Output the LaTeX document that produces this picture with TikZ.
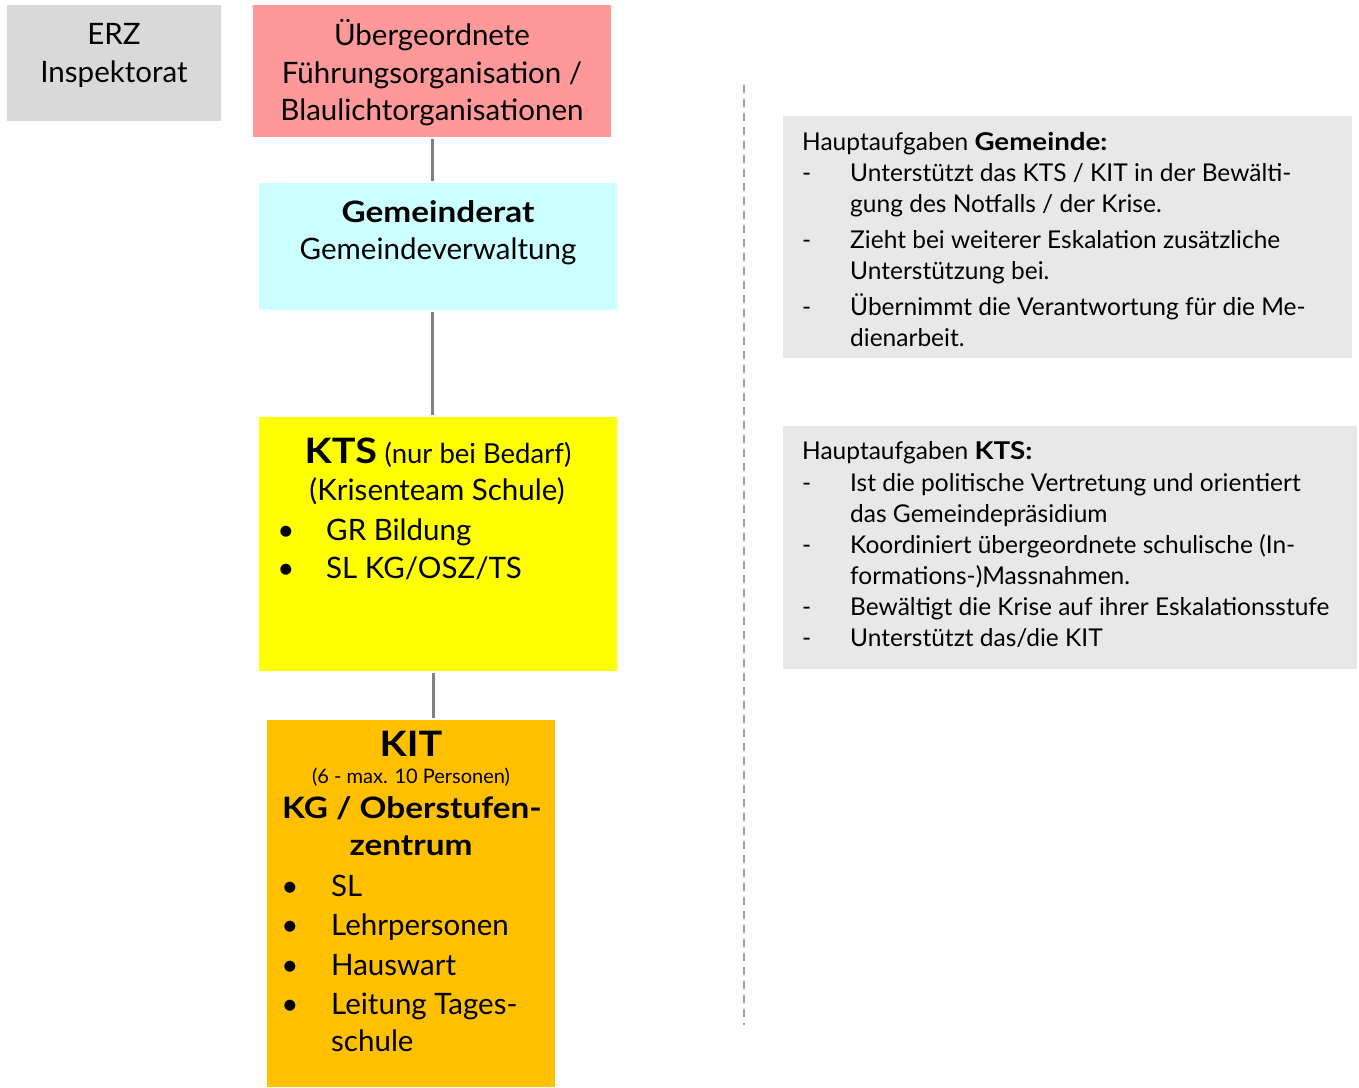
\documentclass[tikz,border=0pt]{standalone}
\usepackage{fontspec}
\setmainfont{Lato}
\newfontfamily\boldwide[FakeStretch=1.13]{Lato}
\definecolor{erzgray}{HTML}{D9D9D9}
\definecolor{redbox}{HTML}{FF9999}
\definecolor{cyanbox}{HTML}{CCFFFF}
\definecolor{yellowbox}{HTML}{FFFF00}
\definecolor{orangebox}{HTML}{FFC000}
\definecolor{infogray}{HTML}{E8E8E8}
\definecolor{conngray}{HTML}{808080}
\definecolor{dashgray}{HTML}{A0A0A0}
\newcommand{\wb}[1]{{\boldwide\bfseries #1}}
\begin{document}
\begin{tikzpicture}[x=1pt,y=-1pt,
  box/.style={draw=none, inner sep=0pt, outer sep=0pt, anchor=north west},
  txt/.style={inner sep=0pt, anchor=base, font=\fontsize{29.5}{38}\selectfont},
  txtl/.style={inner sep=0pt, anchor=base west, font=\fontsize{29.5}{38}\selectfont},
  info/.style={inner sep=0pt, anchor=base west, font=\fontsize{24.5}{31}\selectfont},
  conn/.style={draw=conngray, line width=3pt, shorten <=2pt, shorten >=2pt},
  divider/.style={draw=dashgray, line width=1.6pt, dash pattern=on 8pt off 6pt}]
\useasboundingbox (0,0) rectangle (1359,1087);
% boxes
\node[box, fill=erzgray, minimum width=214pt, minimum height=116pt] (erz) at (7,5) {};
\node[box, fill=redbox, minimum width=358pt, minimum height=132pt] (fuehrung) at (253,5) {};
\node[box, fill=cyanbox, minimum width=358pt, minimum height=127pt] (gemeinderat) at (259,183) {};
\node[box, fill=yellowbox, minimum width=358pt, minimum height=254pt] (kts) at (259,417) {};
\node[box, fill=orangebox, minimum width=288pt, minimum height=367pt] (kit) at (267,720) {};
\node[box, fill=infogray, minimum width=569pt, minimum height=242pt] (infoG) at (783,116) {};
\node[box, fill=infogray, minimum width=574pt, minimum height=243pt] (infoK) at (783,426) {};
% connectors
\draw[conn] (fuehrung.south) -- (fuehrung.south |- gemeinderat.north);
\draw[conn] (fuehrung.south |- gemeinderat.south) -- (fuehrung.south |- kts.north);
\draw[conn] ([xshift=1pt]fuehrung.south |- kts.south) -- ([xshift=1pt]fuehrung.south |- kit.north);
\coordinate (dtop) at (744,85);
\coordinate (dbot) at (744,1025);
\draw[divider] (dtop) -- (dbot);
% ERZ
\node[txt] (erz1) at (114,44) {ERZ};
\node[txt] (erz2) at (114,82) {Inspektorat};
% red
\node[txt] (f1) at (432,45) {Übergeordnete};
\node[txt] (f2) at (432,83) {Führungsorganisation /};
\node[txt] (f3) at (432,120) {Blaulichtorganisationen};
% cyan
\node[txt] (g1) at (438,222) {\wb{Gemeinderat}};
\node[txt] (g2) at (438,259) {Gemeindeverwaltung};
% yellow
\node[txt] (k1) at (438,463) {{\fontsize{35}{38}\selectfont\wb{KTS}} {\fontsize{27.5}{38}\selectfont(nur bei Bedarf)}};
\node[txt] (k2) at (437,500) {(Krisenteam Schule)};
\node[txt] (kb1) at (286,540) {•};
\node[txtl] (kt1) at (326,540) {GR Bildung};
\node[txt] (kb2) at (286,578) {•};
\node[txtl] (kt2) at (326,578) {SL KG/OSZ/TS};
% orange
\node[txt, font=\fontsize{35}{38}\selectfont] (i1) at (411,756) {\wb{KIT}};
\node[txt, font=\fontsize{20}{22}\selectfont] (i2) at (411,783) {(6 - max. 10 Personen)};
\node[txt] (i3) at (412,818) {\wb{KG / Oberstufen-}};
\node[txt] (i4) at (411,855) {\wb{zentrum}};
\node[txt] (ib1) at (290,896) {•};
\node[txtl] (it1) at (331,896) {SL};
\node[txt] (ib2) at (290,935) {•};
\node[txtl] (it2) at (331,935) {Lehrpersonen};
\node[txt] (ib3) at (290,975) {•};
\node[txtl] (it3) at (331,975) {Hauswart};
\node[txt] (ib4) at (290,1014) {•};
\node[txtl] (it4) at (331,1014) {Leitung Tages-};
\node[txtl] (it5) at (331,1051) {schule};
% info Gemeinde
\node[info] (ga) at (802,150) {Hauptaufgaben \wb{Gemeinde:}};
\node[info] (gd1) at (802,181) {-};
\node[info] (gt1) at (850,181) {Unterstützt das KTS / KIT in der Bewälti-};
\node[info] (gt1b) at (850,212) {gung des Notfalls / der Krise.};
\node[info] (gd2) at (802,248) {-};
\node[info] (gt2) at (850,248) {Zieht bei weiterer Eskalation zusätzliche};
\node[info] (gt2b) at (850,279) {Unterstützung bei.};
\node[info] (gd3) at (802,315) {-};
\node[info] (gt3) at (850,315) {Übernimmt die Verantwortung für die Me-};
\node[info] (gt3b) at (850,346) {dienarbeit.};
% info KTS
\node[info] (ka) at (802,459) {Hauptaufgaben \wb{KTS:}};
\node[info] (kd1) at (802,491) {-};
\node[info] (kt1i) at (850,491) {Ist die politische Vertretung und orientiert};
\node[info] (kt1b) at (850,522) {das Gemeindepräsidium};
\node[info] (kd2) at (802,553) {-};
\node[info] (kt2i) at (850,553) {Koordiniert übergeordnete schulische (In-};
\node[info] (kt2b) at (850,584) {formations-)Massnahmen.};
\node[info] (kd3) at (802,615) {-};
\node[info] (kt3i) at (850,615) {Bewältigt die Krise auf ihrer Eskalationsstufe};
\node[info] (kd4) at (802,646) {-};
\node[info] (kt4i) at (850,646) {Unterstützt das/die KIT};
\end{tikzpicture}
\end{document}
